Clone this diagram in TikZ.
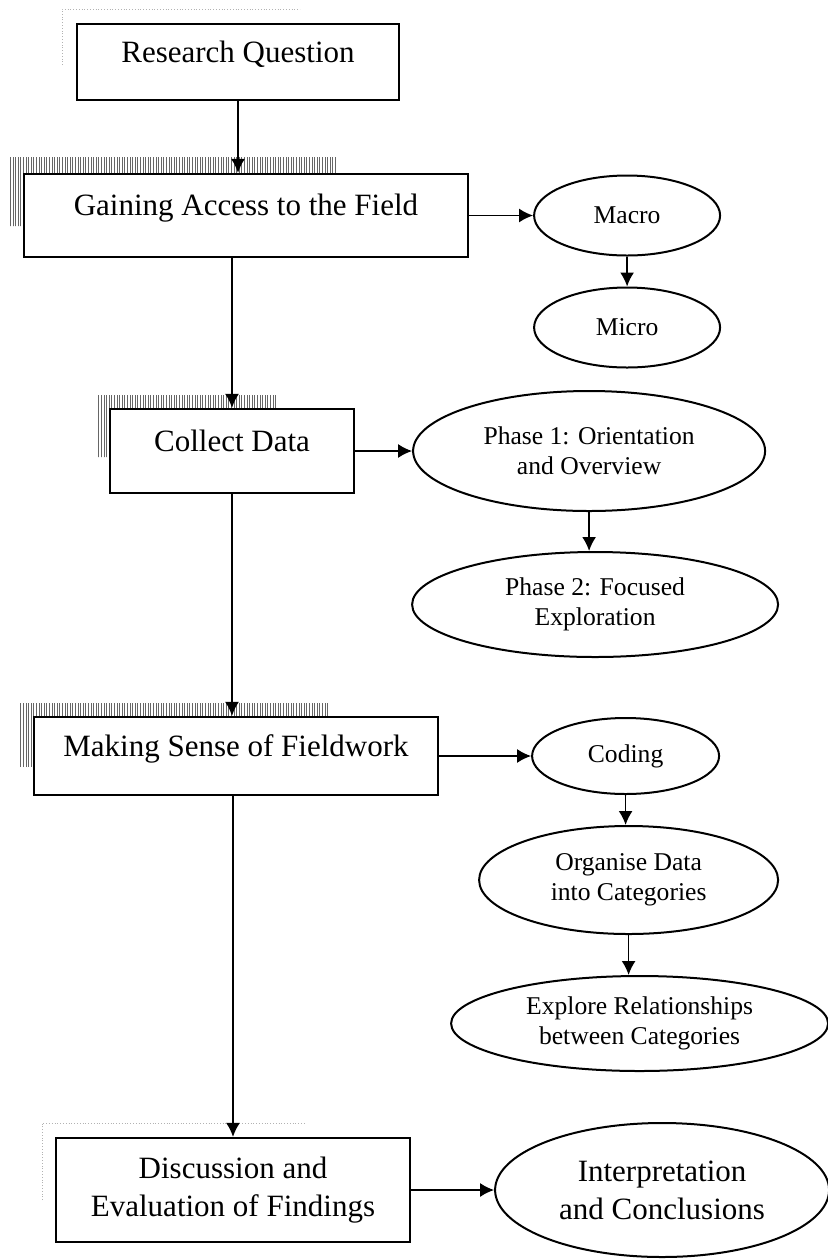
\documentclass[tikz,border=0pt]{standalone}
\usepackage{fontspec}
\setmainfont{Liberation Serif}
\usetikzlibrary{arrows.meta,positioning,shapes.geometric,patterns.meta}
\newcommand{\bigtxt}{\fontsize{15.5}{19}\selectfont}
\newcommand{\smalltxt}{\fontsize{12.8}{15}\selectfont}

\begin{document}
\begin{tikzpicture}[x=0.5pt,y=-0.5pt,>={Latex[length=7pt,width=7pt]},
  stage/.style={draw,line width=1.1pt,rectangle,inner sep=0pt,align=center,font=\bigtxt},
  oneline/.style={text height=8pt,text depth=8pt},
  oval/.style={draw,line width=1pt,ellipse,inner sep=0pt,align=center,font=\smalltxt},
  link/.style={->,line width=0.85pt},
  hatch/.style={pattern={Lines[angle=90,distance=1.3pt,line width=0.4pt]},pattern color=black!60},
  smudge/.style={black!30,line width=0.4pt,densely dotted}]
\useasboundingbox (0,0) rectangle (828,1260);

% scan shadows behind the boxes
\draw[smudge] (62,65) -- (62,9) -- (300,9);
\fill[hatch] (9,157) rectangle (337,174) (9,174) rectangle (24,226);
\fill[hatch] (97,395) rectangle (277,409) (97,409) rectangle (110,457);
\fill[hatch] (20,703) rectangle (330,717) (20,717) rectangle (34,767);
\draw[smudge] (42,1200) -- (42,1123) -- (305,1123);

% main column
\node[stage,oneline,minimum width=161pt,minimum height=38pt] (RQ) at (238,62) {Research Question};
\node[stage,oneline,minimum width=222pt,minimum height=41.5pt] (GA) at (246,215.5) {Gaining Access to the Field};
\node[stage,oneline,minimum width=122pt,minimum height=42pt] (CD) at (232,451) {Collect Data};
\node[stage,oneline,minimum width=202pt,minimum height=39pt] (MS) at (236,756) {Making Sense of Fieldwork};
\node[stage,minimum width=177pt,minimum height=52pt] (DE) at (233,1190) {Discussion and\\Evaluation of Findings};

% side ovals
\node[oval,minimum width=93pt,minimum height=40pt,right=32pt of GA] (macro) {Macro};
\node[oval,minimum width=93pt,minimum height=40pt,below=15pt of macro] (micro) {Micro};
\node[oval,minimum width=176pt,minimum height=60pt,right=28.5pt of CD] (ph1) {Phase 1: Orientation\\and Overview};
\node[oval,minimum width=183pt,minimum height=52.5pt,below=19.5pt of ph1,xshift=3pt] (ph2) {Phase 2: Focused\\Exploration};
\node[oval,minimum width=93.5pt,minimum height=38pt,right=46pt of MS] (code) {Coding};
\node[oval,minimum width=149.5pt,minimum height=54pt,below=15pt of code,xshift=1.5pt] (cat) {Organise Data\\into Categories};
\node[oval,minimum width=188.5pt,minimum height=47.5pt,below=20pt of cat,xshift=5.5pt] (rel) {Explore Relationships\\between Categories};
\node[oval,font=\bigtxt,minimum width=167pt,minimum height=67pt,right=41.5pt of DE] (IC) {Interpretation\\and Conclusions};

% connectors
\draw[link] (RQ.south) -- (RQ.south |- GA.north);
\draw[link] (CD.north |- GA.south) -- (CD.north);
\draw[link] (CD.south) -- (CD.south |- MS.north);
\draw[link] (DE.north |- MS.south) -- (DE.north);
\draw[link] (GA.east) -- (macro.west);
\draw[link] (macro.south) -- (micro.north);
\draw[link] (CD.east) -- (CD.east -| ph1.west);
\draw[link] (ph1.south) -- (ph1.south |- ph2.north);
\draw[link] (MS.east) -- (code.west);
\draw[link] (code.south) -- (code.south |- cat.north);
\draw[link] (cat.south) -- (cat.south |- rel.north);
\draw[link] (DE.east) -- (IC.west);
\end{tikzpicture}
\end{document}
